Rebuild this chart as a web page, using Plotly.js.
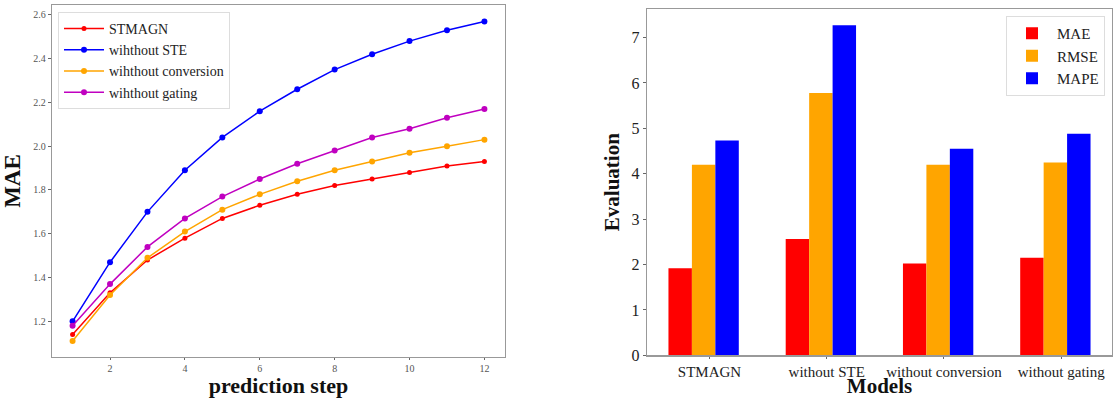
<!DOCTYPE html>
<html>
<head>
<meta charset="utf-8">
<script src="https://cdn.plot.ly/plotly-3.0.1.min.js"></script>
<style>html,body{margin:0;padding:0;background:#fff;}#chart{width:1115px;height:398px;}</style>
</head>
<body>
<div id="chart"></div>
<script>
// ---- left chart data ----
const steps = [1,2,3,4,5,6,7,8,9,10,11,12];
const lineNames = ["STMAGN","wihthout STE","wihthout conversion","wihthout gating"];
const stmagn      = [1.14,1.33,1.48,1.58,1.67,1.73,1.78,1.82,1.85,1.88,1.91,1.93];
const withoutSTE  = [1.20,1.47,1.70,1.89,2.04,2.16,2.26,2.35,2.42,2.48,2.53,2.57];
const withoutConv = [1.11,1.32,1.49,1.61,1.71,1.78,1.84,1.89,1.93,1.97,2.00,2.03];
const withoutGate = [1.18,1.37,1.54,1.67,1.77,1.85,1.92,1.98,2.04,2.08,2.13,2.17];
const lineColors = ["#ff0000","#0000ff","#ffa500","#c000c0"];

// ---- right chart data ----
const models = ["STMAGN","without STE","without conversion","without gating"];
const metricNames = ["MAE","RMSE","MAPE"];
const maeVals  = [1.92,2.56,2.02,2.15];
const rmseVals = [4.20,5.78,4.20,4.25];
const mapeVals = [4.73,7.27,4.55,4.88];
const barColors = ["#ff0000","#ffa500","#0000ff"];

const serif = "Liberation Serif";
const lineSeries = [stmagn, withoutSTE, withoutConv, withoutGate];
const traces = [];
lineSeries.forEach((ys,i)=>{
  traces.push({
    x: steps, y: ys, name: lineNames[i], type:"scatter", mode:"lines+markers",
    line:{color:lineColors[i], width:1.5},
    marker:{color:lineColors[i], size: i===0?5:6},
    xaxis:"x", yaxis:"y", legend:"legend"
  });
});
const idx = models.map((m,i)=>i);
[maeVals, rmseVals, mapeVals].forEach((vals,i)=>{
  traces.push({
    x: idx, y: vals, name: metricNames[i], type:"bar",
    marker:{color:barColors[i], line:{width:0}},
    xaxis:"x2", yaxis:"y2", legend:"legend2"
  });
});

const axisCommon = {
  showgrid:false, zeroline:false, showline:true, mirror:true,
  linecolor:"#999", linewidth:1.2, ticks:"outside", ticklen:3, tickcolor:"#666"
};

const layout = {
  width:1115, height:398,
  margin:{l:0,r:0,t:0,b:0},
  paper_bgcolor:"#fff", plot_bgcolor:"#fff",
  barmode:"group", bargap:0.4, bargroupgap:0,
  font:{family:serif, color:"#222"},
  xaxis: Object.assign({}, axisCommon, {
    domain:[52/1115, 505/1115], range:[0.45,12.55], anchor:"y",
    tickvals:[2,4,6,8,10,12], tickfont:{size:10, family:serif, color:"#555"},
    ticklen:2,
    title:{text:"prediction step", font:{size:22, family:serif, color:"#111", weight:"bold"}}
  }),
  yaxis: Object.assign({}, axisCommon, {
    domain:[(398-357)/398, (398-5)/398], range:[1.037,2.645], anchor:"x",
    dtick:0.2, tickformat:".1f", tickfont:{size:10, family:serif, color:"#555"},
    title:{text:"MAE", font:{size:23, family:serif, color:"#111", weight:"bold"}, standoff:8}
  }),
  xaxis2: Object.assign({}, axisCommon, {
    domain:[647/1115, 1112/1115], range:[-0.483,3.483], anchor:"y2",
    tickvals: idx.map(i=>i+0.05), ticktext: models, tickfont:{size:15, family:serif, color:"#222"},
    ticklen:2,
    title:{text:"Models", font:{size:21, family:serif, color:"#111", weight:"bold"}}
  }),
  yaxis2: Object.assign({}, axisCommon, {
    domain:[(398-355.3)/398, (398-9)/398], range:[0,7.63], anchor:"x2",
    dtick:1, tickfont:{size:16, family:serif, color:"#222"},
    title:{text:"Evaluation", font:{size:21, family:serif, color:"#111", weight:"bold"}, standoff:6}
  }),
  legend:{
    x:58/1115, y:1-12/398, xanchor:"left", yanchor:"top",
    bgcolor:"rgba(255,255,255,0.9)", bordercolor:"#ddd", borderwidth:1,
    font:{size:14, family:serif, color:"#222"}, tracegroupgap:0, itemwidth:40
  },
  legend2:{
    x:1105/1115, y:1-16/398, xanchor:"right", yanchor:"top",
    bgcolor:"rgba(255,255,255,0.9)", bordercolor:"#ddd", borderwidth:1,
    font:{size:15, family:serif, color:"#222"}, tracegroupgap:0, itemwidth:40
  },
  showlegend:true
};

Plotly.newPlot("chart", traces, layout, {displayModeBar:false, staticPlot:true});
</script>
</body>
</html>
